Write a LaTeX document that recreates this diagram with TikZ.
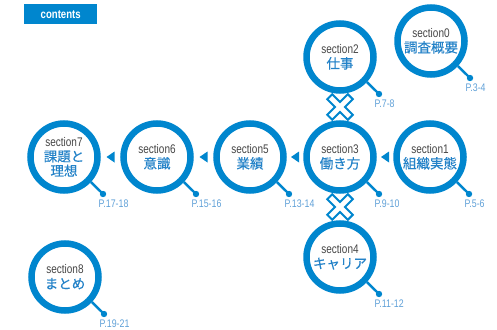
\documentclass[tikz,border=0pt]{standalone}
\usepackage{fontspec}
\setmainfont{Liberation Sans}
\newfontfamily\condf{Liberation Sans}[FakeStretch=0.8]
\newfontfamily\jpf{Noto Sans CJK JP}[FakeBold=0.3]
\usetikzlibrary{calc}
\definecolor{ringblue}{RGB}{0,134,206}
\definecolor{txtblue}{RGB}{35,130,200}
\definecolor{pgblue}{RGB}{95,160,215}
\definecolor{secgray}{RGB}{70,70,70}
\newcommand{\secline}[1]{{\condf\fontsize{12.5}{13}\selectfont\color{secgray}#1}}
\newcommand{\jpline}[1]{{\jpf\fontsize{13.5}{15}\selectfont\color{txtblue}#1}}
\newcommand{\sect}[2]{\secline{#1}\\[3pt]\jpline{#2}}
\begin{document}
\begin{tikzpicture}[x=1pt,y=-1pt,
  ring/.style={circle, draw=ringblue, line width=6.5pt, minimum size=67pt, inner sep=0pt, align=center, fill=white},
  handle/.style={draw=ringblue, line width=2.4pt},
  pg/.style={anchor=north west, inner sep=0pt, text=pgblue, font=\condf\fontsize{11}{12}\selectfont},
  flowtri/.style={fill=ringblue},
  xout/.style={draw=ringblue, line width=9pt},
  xin/.style={draw=white, line width=4.8pt}]
\useasboundingbox (0,0) rectangle (497,329);
% header
\node[fill=ringblue, minimum width=73pt, minimum height=20pt, anchor=north west, inner sep=0pt,
      text=white, font=\bfseries\condf\fontsize{12}{12}\selectfont] (hdr) at (24,4) {contents};
% rings
\node[ring] (s0) at (431,41) {\sect{section0}{調査概要}};
\node[ring] (s2) at (340,57) {\sect{section2}{仕事}};
\node[ring] (s1) at (430,157) {\sect{section1}{組織実態}};
\node[ring] (s3) at (340,157) {\sect{section3}{働き方}};
\node[ring] (s5) at (250,157) {\sect{section5}{業績}};
\node[ring] (s6) at (157,157) {\sect{section6}{意識}};
\node[ring] (s7) at (64,157) {\secline{section7}\\[3pt]\jpline{課題と}\\[1pt]\jpline{理想}};
\node[ring] (s4) at (340,257) {\sect{section4}{キャリア}};
\node[ring] (s8) at (65,277) {\sect{section8}{まとめ}};
% handles, dots and page labels
\foreach \s/\p in {s0/P.3-4, s2/P.7-8, s1/P.5-6, s3/P.9-10, s5/P.13-14, s6/P.15-16, s7/P.17-18, s4/P.11-12, s8/P.19-21}{
  \coordinate (d\s) at ($(\s)+(39,37)$);
  \draw[handle] (\s.-43) -- (d\s);
  \fill[ringblue] (d\s) circle (3.2);
  \node[pg] (l\s) at ($(d\s)+(-4.5,6)$) {\p};
}
% flow triangles
\foreach \a/\b in {s1/s3, s3/s5, s5/s6, s6/s7}{
  \coordinate (m\a) at ($(\a.west)!0.5!(\b.east)$);
  \fill[flowtri] ($(m\a)+(-4,0)$) -- ($(m\a)+(4,-5.5)$) -- ($(m\a)+(4,5.5)$) -- cycle;
}
% cross marks
\coordinate (x1) at ($(s2.south)!0.5!(s3.north)$);
\coordinate (x2) at ($(s3.south)!0.5!(s4.north)$);
\foreach \c in {x1,x2}{
  \draw[xout] ($(\c)+(-11,-11)$) -- ($(\c)+(11,11)$);
  \draw[xout] ($(\c)+(-11,11)$) -- ($(\c)+(11,-11)$);
}
\foreach \c in {x1,x2}{
  \draw[xin] ($(\c)+(-9.4,-9.4)$) -- ($(\c)+(9.4,9.4)$);
  \draw[xin] ($(\c)+(-9.4,9.4)$) -- ($(\c)+(9.4,-9.4)$);
}
\end{tikzpicture}
\end{document}
